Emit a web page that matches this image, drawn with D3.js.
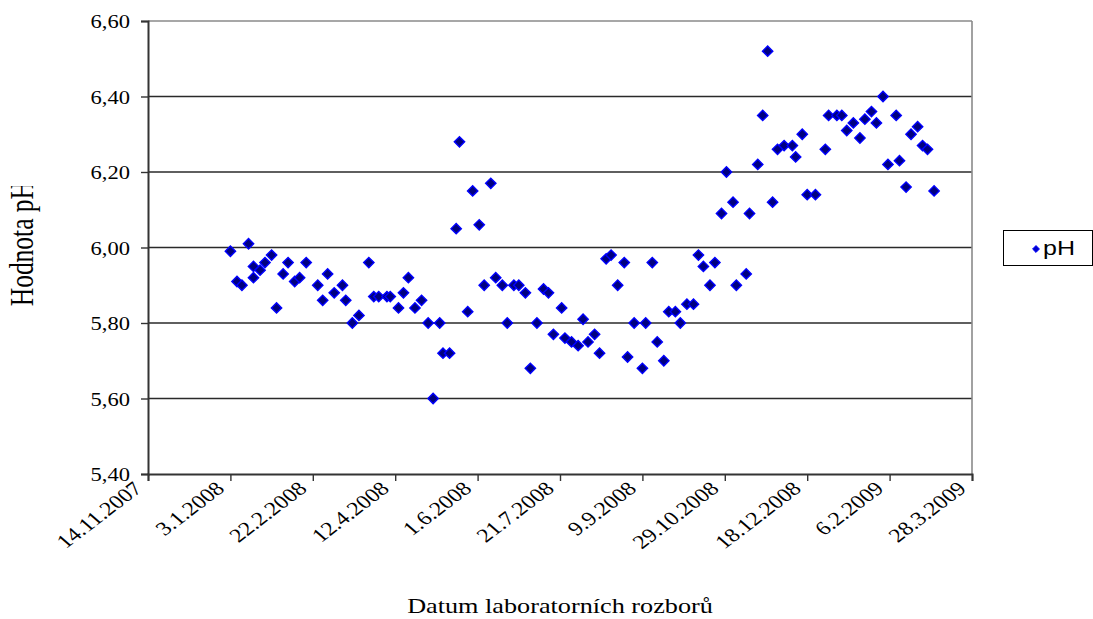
<!DOCTYPE html>
<html>
<head>
<meta charset="utf-8">
<script src="https://cdn.jsdelivr.net/npm/d3@7"></script>
<style>
  body { margin: 0; background: #fff; }
  svg { display: block; }
</style>
</head>
<body>
<div id="chart"></div>
<script>
// datumy odběrů (d.m.rrrr) a naměřené pH
const dates = [
  '3.1.2008', '7.1.2008', '10.1.2008', '14.1.2008', '17.1.2008', '17.1.2008', '21.1.2008', '24.1.2008',
  '28.1.2008', '31.1.2008', '4.2.2008', '7.2.2008', '11.2.2008', '14.2.2008', '18.2.2008', '25.2.2008',
  '28.2.2008', '2.3.2008', '6.3.2008', '11.3.2008', '13.3.2008', '17.3.2008', '21.3.2008', '27.3.2008',
  '30.3.2008', '2.4.2008', '7.4.2008', '9.4.2008', '14.4.2008', '17.4.2008', '20.4.2008', '24.4.2008',
  '28.4.2008', '2.5.2008', '5.5.2008', '9.5.2008', '11.5.2008', '15.5.2008', '19.5.2008', '21.5.2008',
  '26.5.2008', '29.5.2008', '2.6.2008', '5.6.2008', '9.6.2008', '12.6.2008', '16.6.2008', '19.6.2008',
  '23.6.2008', '26.6.2008', '30.6.2008', '3.7.2008', '7.7.2008', '11.7.2008', '14.7.2008', '17.7.2008',
  '22.7.2008', '24.7.2008', '28.7.2008', '1.8.2008', '4.8.2008', '7.8.2008', '11.8.2008', '14.8.2008',
  '18.8.2008', '21.8.2008', '25.8.2008', '29.8.2008', '31.8.2008', '4.9.2008', '9.9.2008', '11.9.2008',
  '15.9.2008', '18.9.2008', '22.9.2008', '25.9.2008', '29.9.2008', '2.10.2008', '6.10.2008', '10.10.2008',
  '13.10.2008', '16.10.2008', '20.10.2008', '23.10.2008', '27.10.2008', '30.10.2008', '3.11.2008', '5.11.2008',
  '11.11.2008', '13.11.2008', '18.11.2008', '21.11.2008', '24.11.2008', '27.11.2008', '30.11.2008', '4.12.2008',
  '9.12.2008', '11.12.2008', '15.12.2008', '18.12.2008', '23.12.2008', '29.12.2008', '31.12.2008', '5.1.2009',
  '8.1.2009', '11.1.2009', '15.1.2009', '19.1.2009', '22.1.2009', '26.1.2009', '29.1.2009', '2.2.2009',
  '5.2.2009', '10.2.2009', '12.2.2009', '16.2.2009', '19.2.2009', '23.2.2009', '26.2.2009', '1.3.2009',
  '5.3.2009',
]
const phValues = [
  5.99, 5.91, 5.90, 6.01, 5.95, 5.92, 5.94, 5.96,
  5.98, 5.84, 5.93, 5.96, 5.91, 5.92, 5.96, 5.90,
  5.86, 5.93, 5.88, 5.90, 5.86, 5.80, 5.82, 5.96,
  5.87, 5.87, 5.87, 5.87, 5.84, 5.88, 5.92, 5.84,
  5.86, 5.80, 5.60, 5.80, 5.72, 5.72, 6.05, 6.28,
  5.83, 6.15, 6.06, 5.90, 6.17, 5.92, 5.90, 5.80,
  5.90, 5.90, 5.88, 5.68, 5.80, 5.89, 5.88, 5.77,
  5.84, 5.76, 5.75, 5.74, 5.81, 5.75, 5.77, 5.72,
  5.97, 5.98, 5.90, 5.96, 5.71, 5.80, 5.68, 5.80,
  5.96, 5.75, 5.70, 5.83, 5.83, 5.80, 5.85, 5.85,
  5.98, 5.95, 5.90, 5.96, 6.09, 6.20, 6.12, 5.90,
  5.93, 6.09, 6.22, 6.35, 6.52, 6.12, 6.26, 6.27,
  6.27, 6.24, 6.30, 6.14, 6.14, 6.26, 6.35, 6.35,
  6.35, 6.31, 6.33, 6.29, 6.34, 6.36, 6.33, 6.40,
  6.22, 6.35, 6.23, 6.16, 6.30, 6.32, 6.27, 6.26,
  6.15,
]

// popisky osy x (po 50 dnech) a osy y
const xTickLabels = ['14.11.2007', '3.1.2008', '22.2.2008', '12.4.2008', '1.6.2008', '21.7.2008',
  '9.9.2008', '29.10.2008', '18.12.2008', '6.2.2009', '28.3.2009']
const yTicks = [5.4, 5.6, 5.8, 6.0, 6.2, 6.4, 6.6]

const width = 1093
const height = 619
const plot = { left: 148, right: 972, top: 21, bottom: 474 }
const stretch = 1.22 // text in the original is drawn a bit wider

const parseDate = d3.utcParse('%d.%m.%Y')
const locale = d3.formatLocale({ decimal: ',', thousands: ' ', grouping: [3], currency: ['', ' Kč'] })
const fmt = locale.format('.2f')

const data = dates.map((d, i) => ({ date: parseDate(d), value: phValues[i] }))
const tickDates = xTickLabels.map(parseDate)

const x = d3.scaleUtc()
  .domain([tickDates[0], tickDates[tickDates.length - 1]])
  .range([plot.left, plot.right])
const y = d3.scaleLinear().domain([5.4, 6.6]).range([plot.bottom, plot.top])

const svg = d3.select('#chart').append('svg')
  .attr('width', width)
  .attr('height', height)
  .style('font-family', '"Liberation Serif", "Times New Roman", serif')

svg.append('rect').attr('width', width).attr('height', height).attr('fill', '#fff')

// mřížka
svg.append('g')
  .selectAll('line')
  .data(yTicks.slice(1))
  .join('line')
  .attr('x1', plot.left)
  .attr('x2', plot.right)
  .attr('y1', d => y(d))
  .attr('y2', d => y(d))
  .attr('stroke', (d, i, n) => (i === n.length - 1 ? '#8a8a8a' : '#2a2a2a'))
  .attr('stroke-width', 1.4)

// pravý okraj plochy grafu
svg.append('line')
  .attr('x1', plot.right).attr('x2', plot.right)
  .attr('y1', plot.top).attr('y2', plot.bottom)
  .attr('stroke', '#8a8a8a').attr('stroke-width', 1.6)

// osa y
const yAxis = svg.append('g').attr('transform', `translate(${plot.left},0)`)
  .call(d3.axisLeft(y).tickValues(yTicks).tickSize(7).tickFormat(''))
yAxis.select('.domain').attr('stroke', '#333').attr('stroke-width', 2)
yAxis.selectAll('.tick line').attr('stroke', '#333').attr('stroke-width', 1.4)

svg.append('g')
  .selectAll('text')
  .data(yTicks)
  .join('text')
  .attr('transform', d => `translate(130,${y(d)}) scale(${stretch},1)`)
  .attr('dy', '0.38em')
  .attr('text-anchor', 'end')
  .style('font-size', '18.5px')
  .attr('fill', '#000')
  .text(d => fmt(d))

// osa x
const xAxis = svg.append('g').attr('transform', `translate(0,${plot.bottom})`)
  .call(d3.axisBottom(x).tickValues(tickDates).tickSize(7).tickFormat(''))
xAxis.select('.domain').attr('stroke', '#333').attr('stroke-width', 2)
xAxis.selectAll('.tick line').attr('stroke', '#333').attr('stroke-width', 1.4)

svg.append('g')
  .selectAll('text')
  .data(tickDates)
  .join('text')
  .attr('transform', d => `translate(${x(d) - 16},${plot.bottom + 6}) scale(${stretch},1) rotate(-43)`)
  .attr('dy', '0.7em')
  .attr('text-anchor', 'end')
  .style('font-size', '19.5px')
  .attr('fill', '#000')
  .text((d, i) => xTickLabels[i])

// názvy os
svg.append('text')
  .attr('transform', `translate(${(plot.left + plot.right) / 2},613) scale(${stretch},1)`)
  .attr('text-anchor', 'middle')
  .style('font-size', '21.5px')
  .text('Datum laboratorních rozborů')

svg.append('clipPath').attr('id', 'yTitleClip')
  .append('rect').attr('x', 0).attr('y', 186).attr('width', 70).attr('height', 250)

svg.append('g')
  .attr('clip-path', 'url(#yTitleClip)')
  .append('text')
  .attr('transform', `translate(33,181) scale(1.28,1) rotate(-90)`)
  .attr('text-anchor', 'end')
  .style('font-size', '25.5px')
  .text('Hodnota pH')

// body
const diamond = d3.symbol().type(d3.symbolDiamond2).size(68)
svg.append('g')
  .selectAll('path')
  .data(data)
  .join('path')
  .attr('d', diamond)
  .attr('transform', d => `translate(${x(d.date)},${y(d.value)})`)
  .attr('fill', '#000080')
  .attr('stroke', '#0000ff')
  .attr('stroke-width', 1.4)

// legenda
const legend = svg.append('g')
legend.append('rect')
  .attr('x', 1003.5).attr('y', 230.5).attr('width', 89).attr('height', 35)
  .attr('fill', '#fff').attr('stroke', '#000').attr('stroke-width', 1)
legend.append('path')
  .attr('d', d3.symbol().type(d3.symbolDiamond2).size(30)())
  .attr('transform', 'translate(1036,249)')
  .attr('fill', '#0000cc')
  .attr('stroke', '#0000ff')
  .attr('stroke-width', 1)
legend.append('text')
  .attr('transform', `translate(1043,255) scale(${stretch},1)`)
  .style('font-family', '"Liberation Sans", Arial, sans-serif')
  .style('font-size', '20.5px')
  .text('pH')
</script>
</body>
</html>
